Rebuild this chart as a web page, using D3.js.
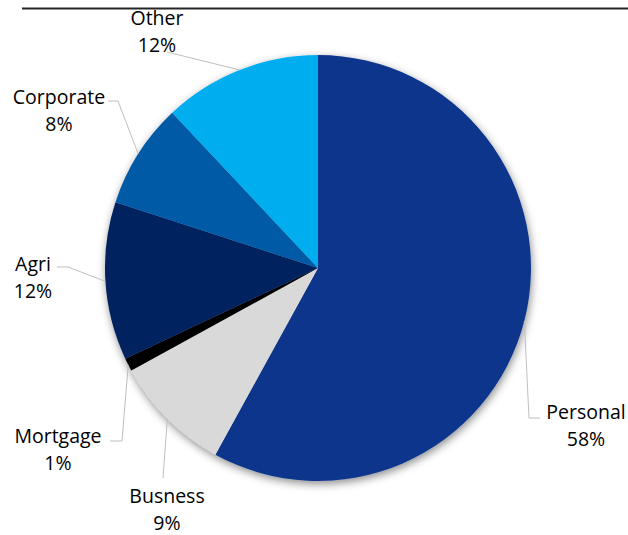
<!DOCTYPE html>
<html>
<head>
<meta charset="utf-8">
<script src="https://cdn.jsdelivr.net/npm/d3@7/dist/d3.min.js"></script>
<style>
  html, body { margin: 0; padding: 0; background: #fff; }
  svg { display: block; }
  text { font-family: "Open Sans", "Noto Sans", sans-serif; fill: #000; }
</style>
</head>
<body>
<svg id="chart" width="628" height="535"></svg>
<script>
// Loan portfolio composition, clockwise from 12 o'clock
const categories = ["Personal", "Busness", "Mortgage", "Agri", "Corporate", "Other"];
const shares = [58, 9, 1, 12, 8, 12];
const colors = ["#0a358b", "#d9d9d9", "#000000", "#01205f", "#035aa6", "#00aeef"];

// Label placement: text centre / first baseline, plus the leader bend points toward the text
const labelLayout = {
  Personal:  { x: 586, y: 419, leader: [[529, 418], [540, 418]] },
  Busness:   { x: 167, y: 503, leader: [[163, 478]] },
  Mortgage:  { x: 58,  y: 443, leader: [[122, 441], [110, 441]] },
  Agri:      { x: 33,  y: 271, leader: [[68, 267], [57, 267]] },
  Corporate: { x: 59,  y: 104, leader: [[118, 101], [108, 101]] },
  Other:     { x: 157, y: 25,  leader: [[167, 52]] }
};

const svg = d3.select("#chart");
const cx = 318, cy = 268, radius = 213;

// Rule across the top of the chart area
svg.append("line")
  .attr("x1", 22).attr("x2", 628)
  .attr("y1", 8.5).attr("y2", 8.5)
  .attr("stroke", "#262626").attr("stroke-width", 2);

const defs = svg.append("defs");
const shadow = defs.append("filter").attr("id", "pieShadow")
  .attr("x", "-20%").attr("y", "-20%").attr("width", "140%").attr("height", "140%");
shadow.append("feDropShadow")
  .attr("dx", 1).attr("dy", 3).attr("stdDeviation", 4)
  .attr("flood-color", "#000").attr("flood-opacity", 0.45);

const data = categories.map((c, i) => ({ name: c, value: shares[i], color: colors[i] }));

const pie = d3.pie().value(d => d.value).sort(null);
const arcs = pie(data);
const arc = d3.arc().innerRadius(0).outerRadius(radius);

const g = svg.append("g").attr("transform", `translate(${cx},${cy})`);

g.append("g").attr("filter", "url(#pieShadow)")
  .selectAll("path")
  .data(arcs)
  .join("path")
  .attr("d", arc)
  .attr("fill", d => d.data.color);

// Leader lines from each slice's outer edge to its label
const edgePoint = d => {
  const a = (d.startAngle + d.endAngle) / 2;
  return [cx + radius * Math.sin(a), cy - radius * Math.cos(a)];
};

svg.append("g")
  .selectAll("path")
  .data(arcs)
  .join("path")
  .attr("d", d => d3.line()([edgePoint(d), ...labelLayout[d.data.name].leader]))
  .attr("fill", "none")
  .attr("stroke", "#bfbfbf")
  .attr("stroke-width", 1);

const fmt = v => `${v}%`;
const labels = svg.append("g")
  .selectAll("text")
  .data(arcs)
  .join("text")
  .attr("text-anchor", "middle")
  .attr("font-size", 19.5)
  .attr("x", d => labelLayout[d.data.name].x)
  .attr("y", d => labelLayout[d.data.name].y);

labels.append("tspan")
  .attr("x", d => labelLayout[d.data.name].x)
  .text(d => d.data.name);
labels.append("tspan")
  .attr("x", d => labelLayout[d.data.name].x)
  .attr("dy", 27)
  .text(d => fmt(d.data.value));
</script>
</body>
</html>
